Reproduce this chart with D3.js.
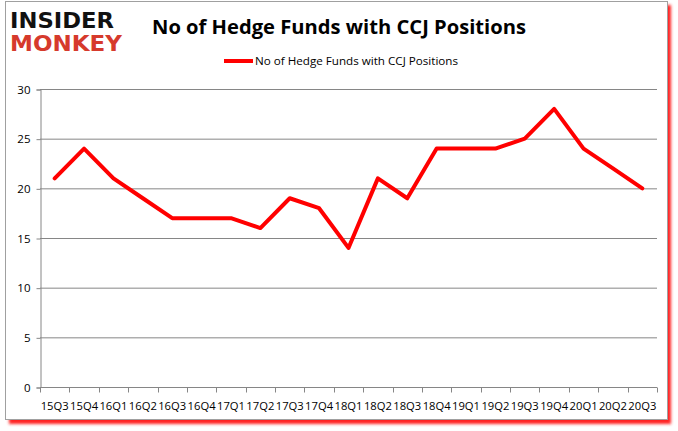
<!DOCTYPE html>
<html>
<head>
<meta charset="utf-8">
<script src="https://cdn.jsdelivr.net/npm/d3@7"></script>
<style>
  body { margin: 0; background: #fff; }
  svg { display: block; }
</style>
</head>
<body>
<svg></svg>
<script>
let width = 678,
    height = 431;

// chart data
let quarters = ["15Q3", "15Q4", "16Q1", "16Q2", "16Q3", "16Q4", "17Q1", "17Q2", "17Q3", "17Q4",
    "18Q1", "18Q2", "18Q3", "18Q4", "19Q1", "19Q2", "19Q3", "19Q4", "20Q1", "20Q2", "20Q3"];
let funds = [21, 24, 21, 19, 17, 17, 17, 16, 19, 18, 14, 21, 19, 24, 24, 24, 25, 28, 24, 22, 20];
let yTicks = [0, 5, 10, 15, 20, 25, 30];
let seriesName = "No of Hedge Funds with CCJ Positions";

let svg = d3.select("svg")
    .attr("width", width)
    .attr("height", height);

let defs = svg.append("defs");
defs.append("filter")
    .attr("id", "soft")
    .attr("x", "-5%").attr("y", "-5%").attr("width", "110%").attr("height", "110%")
    .append("feGaussianBlur")
    .attr("stdDeviation", 1.5);

// frame with red shadow
svg.append("rect")
    .attr("x", 9).attr("y", 5)
    .attr("width", 662).attr("height", 419)
    .attr("fill", "#ff2020")
    .attr("filter", "url(#soft)");
svg.append("rect")
    .attr("x", 5.5).attr("y", 1.5)
    .attr("width", 662).attr("height", 418)
    .attr("fill", "#fff")
    .attr("stroke", "#a0a0a0");

// logo
svg.append("text")
    .attr("x", 10).attr("y", 28)
    .attr("textLength", 104)
    .attr("lengthAdjust", "spacingAndGlyphs")
    .style("font-family", "DejaVu Sans")
    .style("font-weight", "bold")
    .style("font-size", "21px")
    .attr("fill", "#111")
    .text("INSIDER");
svg.append("text")
    .attr("x", 10).attr("y", 51)
    .attr("textLength", 112)
    .attr("lengthAdjust", "spacingAndGlyphs")
    .style("font-family", "DejaVu Sans")
    .style("font-weight", "bold")
    .style("font-size", "21px")
    .attr("fill", "#d63a2c")
    .text("MONKEY");

// title
svg.append("text")
    .attr("x", 152).attr("y", 34)
    .attr("textLength", 374)
    .attr("lengthAdjust", "spacingAndGlyphs")
    .style("font-family", "Open Sans")
    .style("font-weight", "bold")
    .style("font-size", "19px")
    .attr("fill", "#000")
    .text("No of Hedge Funds with CCJ Positions");

// legend
svg.append("line")
    .attr("x1", 224).attr("x2", 253)
    .attr("y1", 61).attr("y2", 61)
    .attr("stroke", "red")
    .attr("stroke-width", 4);
svg.append("text")
    .attr("x", 255).attr("y", 65)
    .attr("textLength", 203)
    .attr("lengthAdjust", "spacingAndGlyphs")
    .style("font-family", "Open Sans")
    .style("font-size", "11.5px")
    .attr("fill", "#000")
    .text(seriesName);

// scales
let x = d3.scaleBand()
    .domain(quarters)
    .range([40, 657]);

let y = d3.scaleLinear()
    .domain([0, 30])
    .range([387, 89]);

// gridlines
svg.append("g")
    .selectAll("line")
    .data(yTicks.filter(d => d > 0))
    .enter()
    .append("line")
    .attr("x1", 40).attr("x2", 657)
    .attr("y1", d => y(d) + 0.5).attr("y2", d => y(d) + 0.5)
    .attr("stroke", "#868686");

// y axis
let yAxis = svg.append("g")
    .attr("transform", "translate(40.5,0.5)")
    .call(d3.axisLeft(y).tickValues(yTicks).tickSize(4).tickPadding(6));
yAxis.select(".domain").attr("stroke", "#868686");
yAxis.selectAll(".tick line").attr("stroke", "#868686");
yAxis.selectAll("text")
    .style("font-family", "Open Sans")
    .style("font-size", "11.5px")
    .attr("fill", "#000");

// x axis with ticks on band boundaries
let xAxis = svg.append("g")
    .attr("transform", "translate(0,387.5)");
xAxis.append("line")
    .attr("x1", 40).attr("x2", 657)
    .attr("stroke", "#868686");
xAxis.selectAll(".bt")
    .data(quarters.concat(["end"]))
    .enter()
    .append("line")
    .attr("x1", (d, i) => Math.round(i < quarters.length ? x(d) : x.range()[1]) + 0.5)
    .attr("x2", (d, i) => Math.round(i < quarters.length ? x(d) : x.range()[1]) + 0.5)
    .attr("y1", 0).attr("y2", 5)
    .attr("stroke", "#868686");
xAxis.selectAll("text")
    .data(quarters)
    .enter()
    .append("text")
    .attr("x", d => x(d) + x.bandwidth() / 2)
    .attr("y", 22)
    .attr("text-anchor", "middle")
    .attr("textLength", 28)
    .attr("lengthAdjust", "spacingAndGlyphs")
    .style("font-family", "Open Sans")
    .style("font-size", "11.5px")
    .attr("fill", "#000")
    .text(d => d);

// series line
let line = d3.line()
    .x((d, i) => x(quarters[i]) + x.bandwidth() / 2)
    .y(d => y(d));

svg.append("path")
    .datum(funds)
    .attr("d", line)
    .attr("fill", "none")
    .attr("stroke", "red")
    .attr("stroke-width", 4)
    .attr("stroke-linejoin", "round")
    .attr("stroke-linecap", "round");
</script>
</body>
</html>
